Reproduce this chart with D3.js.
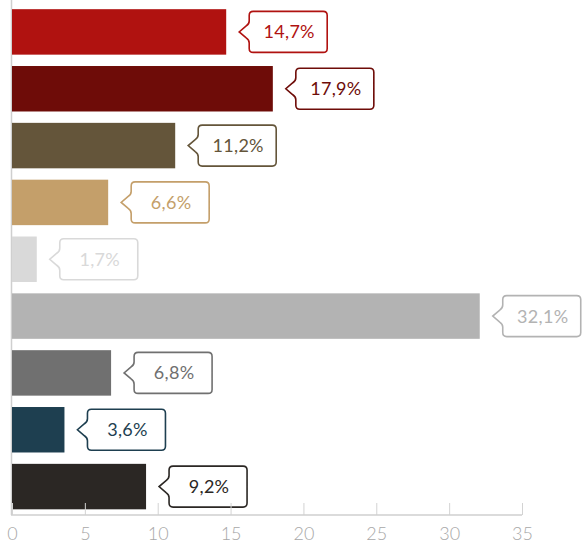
<!DOCTYPE html>
<html><head><meta charset="utf-8">
<script src="https://cdn.jsdelivr.net/npm/d3@7"></script>
<style>body{margin:0;background:#fff}svg{display:block}</style>
</head><body>
<script>
const categories = ["c1","c2","c3","c4","c5","c6","c7","c8","c9"];
const values = [14.7, 17.9, 11.2, 6.6, 1.7, 32.1, 6.8, 3.6, 9.2];
const labels = ["14,7%","17,9%","11,2%","6,6%","1,7%","32,1%","6,8%","3,6%","9,2%"];
const colors = ["#b01210","#6e0c08","#64553a","#c49f6a","#d9d9d9","#b3b3b3","#707070","#1e3f50","#2b2724"];
const tickValues = [0,5,10,15,20,25,30,35];

const W = 582, H = 545;
const svg = d3.select("body").append("svg").attr("width", W).attr("height", H);
const x = d3.scaleLinear().domain([0,35]).range([12,522]);
const y = d3.scaleBand().domain(categories).range([3.5,515]).paddingInner(0.2).paddingOuter(0.1);
const font = "Lato, 'Open Sans', sans-serif";

// left axis line
svg.append("line").attr("x1",11.5).attr("x2",11.5).attr("y1",0).attr("y2",515)
  .attr("stroke","#cfcfcf").attr("stroke-width",1.5);

// bars
svg.selectAll("rect.bar").data(values).join("rect")
  .attr("x", x(0)).attr("y", (d,i)=>y(categories[i]))
  .attr("width", d=>x(d)-x(0)).attr("height", y.bandwidth())
  .attr("fill", (d,i)=>colors[i]);

// callouts
const bw = 78, bh = 41, r = 4;
values.forEach((v,i)=>{
  const cy = y(categories[i]) + y.bandwidth()/2;
  const tip = x(v) + 13;
  const bx = tip + 10;
  const top = cy - bh/2, bot = cy + bh/2;
  const p = `M${bx+r},${top} H${bx+bw-r} Q${bx+bw},${top} ${bx+bw},${top+r} V${bot-r} Q${bx+bw},${bot} ${bx+bw-r},${bot} H${bx+r} Q${bx},${bot} ${bx},${bot-r} V${cy+11} Q${bx},${cy+8} ${bx-3},${cy+6} L${tip},${cy} L${bx-3},${cy-6} Q${bx},${cy-8} ${bx},${cy-11} V${top+r} Q${bx},${top} ${bx+r},${top} Z`;
  svg.append("path").attr("d",p).attr("fill","#fff").attr("stroke",colors[i]).attr("stroke-width",1.6);
  svg.append("text").attr("x",bx+bw/2+1).attr("y",cy+6.5)
    .attr("text-anchor","middle").attr("font-family",font).attr("font-size",18)
    .attr("letter-spacing",0.3)
    .attr("fill",colors[i]).text(labels[i]);
});

// x axis
const ax = svg.append("g").attr("transform","translate(0,515)")
  .call(d3.axisBottom(x).tickValues(tickValues).tickSize(0).tickPadding(12));
ax.select(".domain").remove();
ax.append("line").attr("x1",x(0)-1).attr("x2",x(35)).attr("stroke","#cfcfcf").attr("stroke-width",1.5);
ax.selectAll(".tick").append("line").attr("y1",0).attr("y2",-12).attr("stroke","#d3d3d3").attr("stroke-width",1);
ax.selectAll(".tick text").attr("font-family",font).attr("font-weight",300).attr("font-size",18).attr("fill","#a8a8a8").attr("dy","0.71em").attr("y",12);
</script>
</body></html>
